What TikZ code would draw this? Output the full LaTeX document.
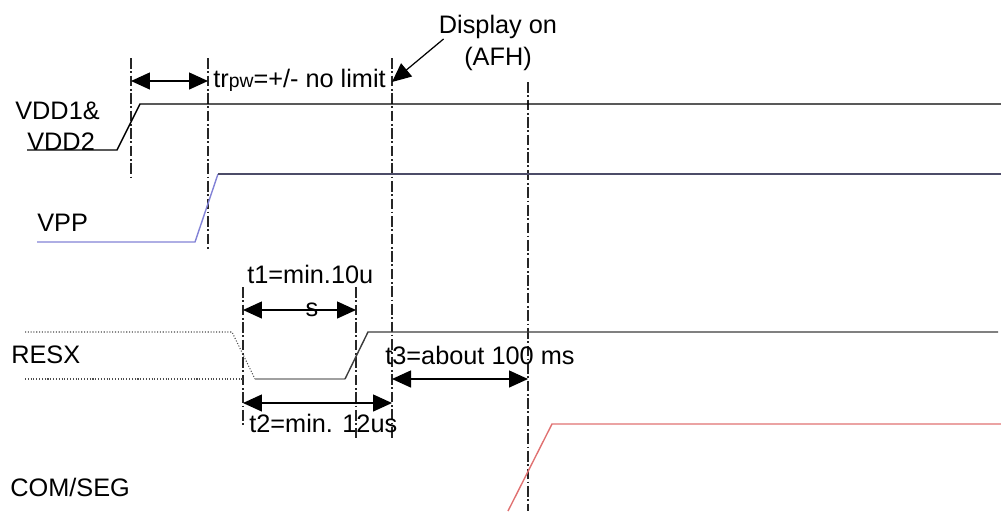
\documentclass[tikz,border=0pt]{standalone}
\usepackage{fontspec}
\setmainfont{Liberation Sans}
\usetikzlibrary{arrows.meta, positioning}
\definecolor{vpplow}{HTML}{8282D6}
\definecolor{vpphigh}{HTML}{4C4C68}
\definecolor{resxgrey}{HTML}{A0A0A0}
\definecolor{resxdark}{HTML}{3C3C3C}
\definecolor{comred}{HTML}{E07272}

\begin{document}
\begin{tikzpicture}[x=0.02cm, y=-0.02cm,
    lbl/.style={font=\fontsize{14.4}{18}\selectfont, inner sep=0pt},
    guide/.style={line width=0.6pt, black!85, dash pattern=on 6pt off 1.5pt on 1pt off 1.5pt},
    dim/.style={line width=0.8pt, {Triangle[length=3.8mm,width=3.4mm]}-{Triangle[length=3.8mm,width=3.4mm]}},
    pointer/.style={line width=0.7pt, -{Triangle[length=3.8mm,width=3.4mm]}},
    wave/.style={line width=0.8pt},
    hold/.style={line width=0.6pt, densely dotted, black!70}]
  \useasboundingbox (0,0) rectangle (1001,511);

  % signal names
  \node[lbl, anchor=base west] (vddA) at (15,119.5) {VDD1\&};
  \node[lbl, anchor=base west] (vddB) at (27,150) {VDD2};
  \node[lbl, anchor=base west] (vpp) at (37,231) {VPP};
  \node[lbl, anchor=base west] (resx) at (11,363) {RESX};
  \node[lbl, anchor=base west] (comseg) at (10,496) {COM/SEG};

  % time marks
  \foreach \x/\a/\b in {131/58/180, 208/58/250, 392/58/440, 528/82/511, 243/287/425, 356/287/440}
    \draw[guide] (\x,\a) -- (\x,\b);

  % waveforms
  \draw[wave] (27,150) -- (117,150) -- (140,104) -- (1001,104);
  \draw[wave, vpplow] (37,242) -- (195,242) -- (218,174);
  \draw[wave, vpphigh] (218,174) -- (1001,174);
  \draw[hold] (25,332) -- (232,332) -- (255,379);
  \draw[hold] (25,379) -- (243,379);
  \draw[wave, resxgrey] (255,379) -- (345,379);
  \draw[wave, resxdark] (345,379) -- (368,332) -- (998,332);
  \draw[wave, comred] (508,511) -- (552,424) -- (1001,424);

  % timing arrows
  \coordinate (tr0) at (131,81);  \coordinate (tr1) at (208,81);
  \coordinate (t1a) at (243,310); \coordinate (t1b) at (356,310);
  \coordinate (t2a) at (243,403); \coordinate (t2b) at (392,403);
  \coordinate (t3a) at (392,379); \coordinate (t3b) at (528,379);
  \draw[dim] (tr0) -- (tr1);
  \draw[dim] (t1a) -- (t1b);
  \draw[dim] (t2a) -- (t2b);
  \draw[dim] (t3a) -- (t3b);

  \node[lbl, anchor=base west] (trpw) at (213,87)
    {tr{\fontsize{11}{12}\selectfont pw}=+/- no limit};
  \node[lbl, anchor=base west] (t1) at (247,283) {t1=min.10u};
  \node[lbl, anchor=base] (t1s) at (312,316) {s};
  \node[lbl, anchor=base west] (t2) at (249,432) {t2=min. 12us};
  \node[lbl, anchor=base west] (t3) at (385,364) {t3=about 100 ms};

  % display on marker
  \node[lbl, align=center, anchor=north] (disp) at (498,15) {Display on\\(AFH)};
  \coordinate (dtip) at (392,82);
  \draw[pointer] ([xshift=0.1cm, yshift=0.08cm]disp.west) -- (dtip);
\end{tikzpicture}
\end{document}
